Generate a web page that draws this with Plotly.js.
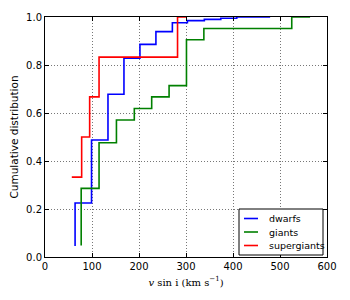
<!DOCTYPE html>
<html><head><meta charset="utf-8">
<script src="https://cdn.plot.ly/plotly-3.0.1.min.js"></script>
<style>html,body{margin:0;padding:0;background:#fff}#c{width:350px;height:300px}</style>
</head><body><div id="c"></div>
<script>
const seriesNames = ["dwarfs", "giants", "supergiants"];
const seriesColors = ["#0000ff", "#008000", "#ff0000"];
const dwarfsX = [64, 99, 134, 168, 202, 236, 271, 303, 339, 374, 408, 479];
const dwarfsY = [0.046, 0.225, 0.4875, 0.678, 0.828, 0.886, 0.939, 0.976, 0.985, 0.99, 0.995, 1.0];
const giantsX = [77, 115, 152, 190, 227, 264, 301, 338, 525, 564];
const giantsY = [0.048, 0.286, 0.476, 0.571, 0.619, 0.667, 0.714, 0.905, 0.952, 1.0];
const superX = [57, 78, 95, 115, 282, 300];
const superY = [0.333, 0.333, 0.5, 0.667, 0.833, 1.0];
const xTicks = [0, 100, 200, 300, 400, 500, 600];
const yTicks = [0.0, 0.2, 0.4, 0.6, 0.8, 1.0];
const yTickText = ["0.0", "0.2", "0.4", "0.6", "0.8", "1.0"];

const xs = [dwarfsX, giantsX, superX], ys = [dwarfsY, giantsY, superY];
const traces = seriesNames.map((n, i) => ({
  x: xs[i], y: ys[i], name: n, type: 'scatter', mode: 'lines',
  line: {shape: 'vh', color: seriesColors[i], width: 1.6}
}));

// custom compact legend (matplotlib style), in paper coordinates
const W = 282, H = 240, L = 45, T = 17;
const px = v => (v - L) / W, py = v => (T + H - v) / H;
const shapes = [{type: 'rect', xref: 'paper', yref: 'paper',
  x0: px(239), x1: px(323), y0: py(255), y1: py(209),
  line: {color: '#000', width: 1}, fillcolor: '#fff', layer: 'above'}];
const annotations = [];
const rowsY = [218.5, 232, 245.5];
seriesNames.forEach((n, i) => {
  shapes.push({type: 'line', xref: 'paper', yref: 'paper', x0: px(244), x1: px(258),
    y0: py(rowsY[i]), y1: py(rowsY[i]), line: {color: seriesColors[i], width: 1.6}, layer: 'above'});
  annotations.push({xref: 'paper', yref: 'paper', x: px(267), y: py(rowsY[i]),
    xanchor: 'left', yanchor: 'middle', text: n, showarrow: false,
    font: {family: 'DejaVu Sans', size: 9.5, color: '#000'}});
});

const axisCommon = {
  showline: true, linecolor: '#000', linewidth: 1, mirror: 'ticks',
  ticks: 'inside', ticklen: 4, tickcolor: '#000', tickwidth: 1,
  showgrid: true, gridcolor: '#777', griddash: '1px,2px', gridwidth: 1,
  zeroline: false, tickfont: {family: 'DejaVu Sans', size: 10, color: '#000'}
};
const layout = {
  width: 350, height: 300,
  margin: {l: L, r: 350 - L - W, t: T, b: 300 - T - H},
  paper_bgcolor: '#fff', plot_bgcolor: '#fff',
  showlegend: false,
  shapes: shapes, annotations: annotations,
  xaxis: Object.assign({}, axisCommon, {range: [0, 600], tickvals: xTicks,
    title: {text: '<i>v</i> sin i (km s<sup>−1</sup>)', font: {family: 'DejaVu Serif', size: 10, color: '#000'}, standoff: 7}}),
  yaxis: Object.assign({}, axisCommon, {range: [0, 1.0], tickvals: yTicks, ticktext: yTickText,
    title: {text: 'Cumulative distribution', font: {family: 'DejaVu Sans', size: 10.5, color: '#000'}, standoff: 5}})
};
Plotly.newPlot('c', traces, layout, {displayModeBar: false, staticPlot: true});
</script></body></html>
